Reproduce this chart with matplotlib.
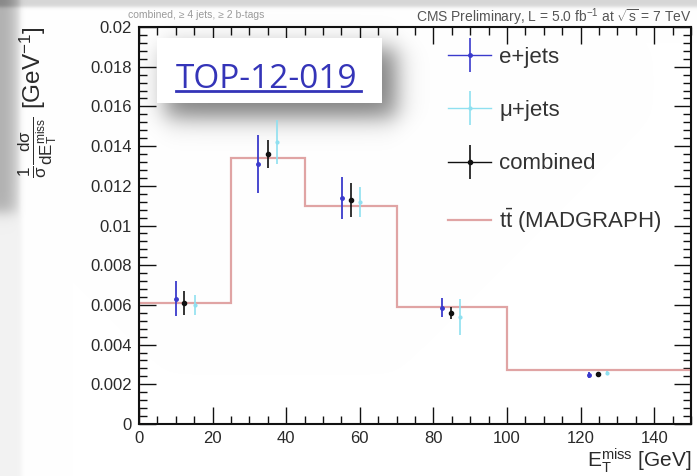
import numpy as np
import matplotlib
matplotlib.use("Agg")
import matplotlib.pyplot as plt
from matplotlib.ticker import MultipleLocator, FuncFormatter
from matplotlib.patches import Rectangle
from matplotlib.lines import Line2D
from matplotlib.legend_handler import HandlerTuple

# ---------------- data ----------------
bin_edges = [0, 25, 45, 70, 100, 150]
madgraph = [0.0061, 0.0134, 0.0110, 0.0059, 0.0027]

ejets_x = [10.0, 32.3, 55.2, 82.4, 122.3]
ejets_y = [0.0063, 0.0131, 0.0114, 0.00585, 0.00247]
ejets_err = [0.00088, 0.00146, 0.00106, 0.00048, 0.00015]

mujets_x = [15.2, 37.5, 60.0, 87.2, 127.2]
mujets_y = [0.0060, 0.0142, 0.0112, 0.0054, 0.00257]
mujets_err = [0.0005, 0.0011, 0.00075, 0.0009, 0.0001]

comb_x = [12.2, 35.0, 57.6, 84.8, 124.7]
comb_y = [0.0061, 0.0136, 0.0113, 0.0056, 0.0025]
comb_err = [0.0006, 0.0007, 0.00086, 0.0003, 0.0001]

labels = ["e+jets", "\u03bc+jets", "combined", "t$\\bar{\\rm t}$ (MADGRAPH)"]
x_ticks = [0, 20, 40, 60, 80, 100, 120, 140]
y_ticks = [0, 0.002, 0.004, 0.006, 0.008, 0.01, 0.012, 0.014, 0.016, 0.018, 0.02]

C_E, C_MU, C_COMB, C_MG = '#3a3acc', '#8fe0f0', '#111111', '#e0a4a4'

# ---------------- style ----------------
plt.rcParams['font.family'] = ['Liberation Sans', 'DejaVu Sans']
plt.rcParams['mathtext.fontset'] = 'custom'
plt.rcParams['mathtext.rm'] = 'Liberation Sans'
plt.rcParams['mathtext.it'] = 'Liberation Sans'
plt.rcParams['mathtext.bf'] = 'Liberation Sans:bold'

W, H = 697, 476
fig = plt.figure(figsize=(W / 100, H / 100), dpi=100)
fig.patch.set_facecolor('white')

# ---------------- slide background (shadows) ----------------
def sig(z):
    return 1.0 / (1.0 + np.exp(-z))

yy, xx = np.mgrid[0:H, 0:W].astype(float)
bg = np.ones((H, W))
bg -= 0.16 * sig((6.5 - yy) / 1.0)
leftdark = sig((21 - xx) / 1.5) * sig((212 - yy) / 4.0)
bg -= leftdark * (0.30 - 0.22 * np.clip(xx / 21.0, 0, 1) ** 2)
bg -= 0.05 * sig((21 - xx) / 1.5) * (1 - sig((212 - yy) / 4.0))
box = (157, 38, 382, 103)
s = 7.0
sh = (sig((xx - (box[0] + 8)) / s) * sig(((box[2] + 14) - xx) / s) *
      sig((yy - (box[1] + 10)) / s) * sig(((box[3] + 14) - yy) / s))
bg *= (1 - 0.5 * sh)
bg = np.clip(bg, 0, 1)
img = np.dstack([bg, bg, bg])
fig.figimage(img, xo=0, yo=0, origin='upper', zorder=-10)

# ---------------- axes ----------------
x0, x1, y0, y1 = 139, 691, 27, 424
ax = fig.add_axes([x0 / W, 1 - y1 / H, (x1 - x0) / W, (y1 - y0) / H])
ax.set_zorder(1)
ax.patch.set_facecolor('none')
ax.set_xlim(0, 150)
ax.set_ylim(0, 0.02)

ax.stairs(madgraph, bin_edges, color=C_MG, linewidth=1.6, zorder=2)
ax.errorbar(ejets_x, ejets_y, yerr=ejets_err, fmt='o', ms=2.5, color=C_E,
            elinewidth=1.3, capsize=0, zorder=3)
ax.errorbar(mujets_x, mujets_y, yerr=mujets_err, fmt='o', ms=2.0, color=C_MU,
            elinewidth=1.2, capsize=0, zorder=3)
ax.errorbar(comb_x, comb_y, yerr=comb_err, fmt='o', ms=3.0, color=C_COMB,
            elinewidth=1.2, capsize=0, zorder=4)

ax.set_xticks(x_ticks)
ax.set_yticks(y_ticks)
ax.xaxis.set_minor_locator(MultipleLocator(5))
ax.yaxis.set_minor_locator(MultipleLocator(0.0004))
ax.yaxis.set_major_formatter(FuncFormatter(lambda v, p: '%g' % round(v, 6)))
ax.xaxis.set_major_formatter(FuncFormatter(lambda v, p: '%g' % v))
ax.tick_params(which='both', direction='in', top=True, right=True, width=1.0,
               labelsize=12, labelcolor='#2a2a2a', color='#111111')
ax.tick_params(which='major', length=12, pad=5)
ax.tick_params(which='minor', length=6)
for sp in ax.spines.values():
    sp.set_linewidth(1.5)
    sp.set_color('#111111')

ax.set_xlabel(r'$\mathrm{E}_{\mathrm{T}}^{\mathrm{miss}}$ [GeV]', fontsize=15, loc='right',
              color='#2a2a2a')
ax.xaxis.set_label_coords(1.0, -0.057)

fig.text(38 / W, 1 - 26 / H,
         r'$\frac{1}{\sigma}\frac{\mathrm{d}\sigma}{\mathrm{dE}_{\mathrm{T}}^{\mathrm{miss}}}$ [GeV$^{-1}$]',
         rotation=90, ha='center', va='top', fontsize=17.5, color='#2a2a2a', zorder=3)

fig.text(128 / W, 1 - 15 / H, 'combined, \u2265 4 jets, \u2265 2 b-tags', fontsize=7.5,
         color='#9a9a9a', ha='left', va='center', zorder=3)
fig.text(692 / W, 1 - 17 / H, r'CMS Preliminary, L = 5.0 fb$^{-1}$ at $\sqrt{\mathrm{s}}$ = 7 TeV',
         fontsize=10, color='#555555', ha='right', va='center', zorder=3)

# legend (ROOT-style crosses)
def cross(c, ms):
    return (Line2D([], [], color=c, lw=1.0),
            Line2D([], [], color=c, marker='|', ms=24, mew=1.2, ls='none'),
            Line2D([], [], color=c, marker='o', ms=ms, ls='none'))

handles = [cross(C_E, 2.5), cross(C_MU, 2.0), cross(C_COMB, 3.0),
           Line2D([], [], color=C_MG, lw=1.6)]
leg = ax.legend(handles, labels, loc='upper left',
                bbox_to_anchor=((448 - x0) / (x1 - x0), 1 - (47 - y0) / (y1 - y0)),
                frameon=False, fontsize=16, handlelength=1.95, handletextpad=0.35,
                labelspacing=1.45, borderpad=0, borderaxespad=0,
                handler_map={tuple: HandlerTuple(ndivide=1)})
for t in leg.get_texts():
    t.set_color('#333333')

# TOP-12-019 box
rect = Rectangle((box[0] / W, 1 - box[3] / H), (box[2] - box[0]) / W, (box[3] - box[1]) / H,
                 transform=fig.transFigure, facecolor='white', edgecolor='none', zorder=5)
fig.add_artist(rect)
fig.text(176 / W, 1 - 88 / H, 'TOP-12-019', fontsize=24, color='#3434b8', ha='left',
         va='baseline', zorder=6, family='Open Sans')
fig.add_artist(Line2D([176 / W, 361 / W], [1 - 91 / H, 1 - 91 / H], transform=fig.transFigure,
                      color='#3434b8', lw=2.0, zorder=6))

fig.savefig('out.png', dpi=100)
